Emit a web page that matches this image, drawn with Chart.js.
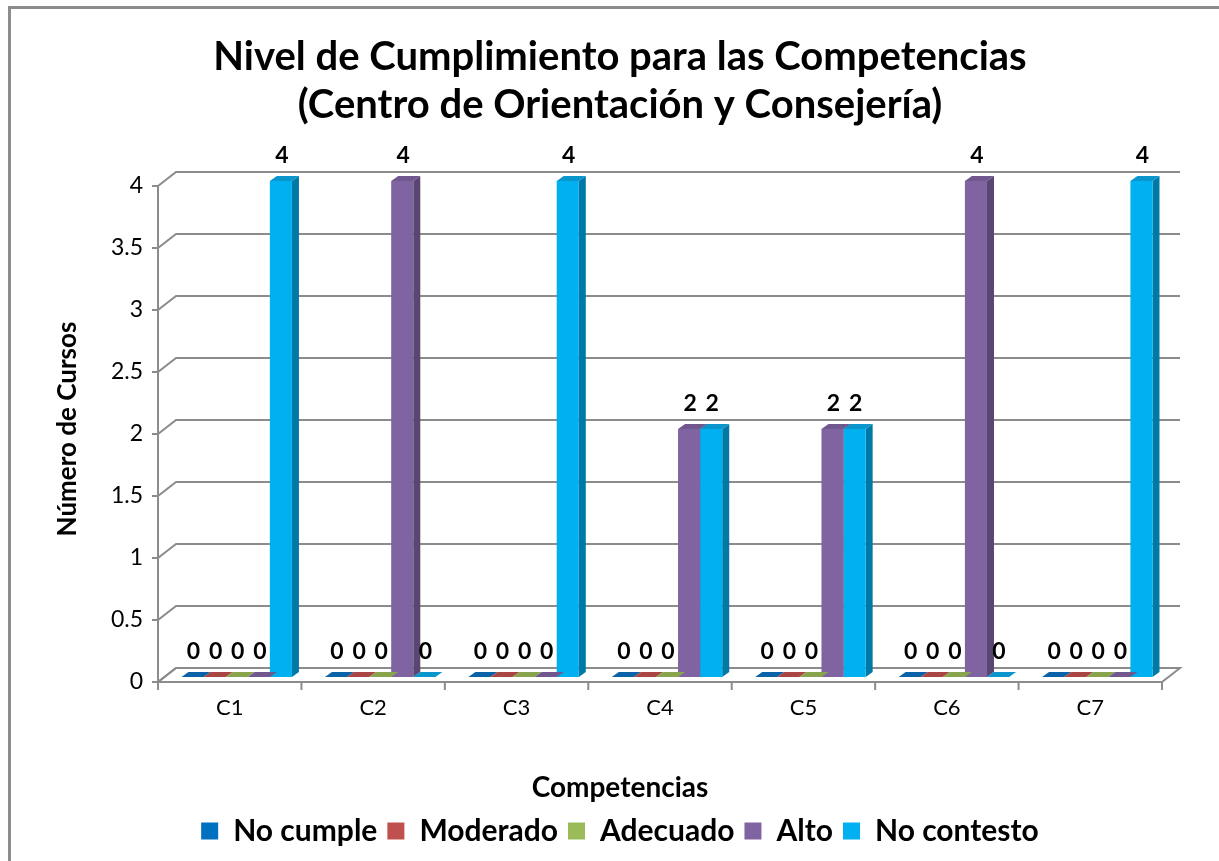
<!DOCTYPE html>
<html>
<head>
<meta charset="utf-8">
<script src="https://cdn.jsdelivr.net/npm/chart.js@4.4.1/dist/chart.umd.min.js"></script>
<style>
  html, body { margin: 0; padding: 0; background: #fff; }
  #wrap { width: 1219px; height: 861px; }
</style>
</head>
<body>
<div id="wrap"><canvas id="myChart" width="1219" height="861"></canvas></div>
<script>
// Datos del gráfico
const categorias = ["C1", "C2", "C3", "C4", "C5", "C6", "C7"];
const noCumple   = [0, 0, 0, 0, 0, 0, 0];
const moderado   = [0, 0, 0, 0, 0, 0, 0];
const adecuado   = [0, 0, 0, 0, 0, 0, 0];
const alto       = [0, 4, 0, 2, 2, 4, 0];
const noContesto = [4, 0, 4, 2, 2, 0, 4];
const ejeYMin = 0, ejeYMax = 4, ejeYPaso = 0.5;

const FUENTE = "Lato";
const GRIS = "#8c8c8c";

// desplazamientos del efecto 3D (respecto al plano de las barras)
const FRENTE = { x: -7, y: 5 };
const FONDO = { x: 11, y: -9 };
const PROF = { x: 7, y: -5 };

// Colores: [frente, lado, arriba]
const colores = {
  noCumple:   ["#0070C0", "#004f87", "#0a62a8"],
  moderado:   ["#C0504D", "#873836", "#a94644"],
  adecuado:   ["#9BBB59", "#6d833e", "#88a54e"],
  alto:       ["#8064A2", "#5a4672", "#70588f"],
  noContesto: ["#00B0F0", "#0079a6", "#0a95cc"]
};

function dataset(label, data, key) {
  return {
    label: label,
    data: data,
    backgroundColor: colores[key][0],
    borderWidth: 0,
    lado: colores[key][1],
    arriba: colores[key][2]
  };
}

// Marco 3D: piso, líneas de fondo y eje frontal
const marco3D = {
  id: "marco3D",
  beforeDraw(chart) {
    const ctx = chart.ctx;
    ctx.save();
    ctx.fillStyle = "#fff";
    ctx.fillRect(0, 0, chart.width, chart.height);
    ctx.strokeStyle = GRIS;
    ctx.lineWidth = 3;
    ctx.strokeRect(9.5, 7.5, 1400, 1000);
    ctx.restore();
  },
  beforeDatasetsDraw(chart) {
    const ctx = chart.ctx;
    const x = chart.scales.x, y = chart.scales.y;
    const izq = chart.chartArea.left, der = chart.chartArea.right;
    const y0 = y.getPixelForValue(ejeYMin);
    const yMax = y.getPixelForValue(ejeYMax);
    ctx.save();
    ctx.strokeStyle = GRIS;
    ctx.lineWidth = 2;

    // piso
    ctx.fillStyle = "#fff";
    ctx.beginPath();
    ctx.moveTo(izq + FRENTE.x, y0 + FRENTE.y);
    ctx.lineTo(der + FRENTE.x, y0 + FRENTE.y);
    ctx.lineTo(der + FONDO.x, y0 + FONDO.y);
    ctx.lineTo(izq + FONDO.x, y0 + FONDO.y);
    ctx.closePath();
    ctx.fill();
    ctx.stroke();

    // líneas de cuadrícula
    for (let v = ejeYMin; v <= ejeYMax + 1e-9; v += ejeYPaso) {
      const py = y.getPixelForValue(v);
      ctx.beginPath();
      ctx.moveTo(izq + FRENTE.x - 6, py + FRENTE.y);
      ctx.lineTo(izq + FRENTE.x, py + FRENTE.y);
      ctx.lineTo(izq + FONDO.x, py + FONDO.y);
      ctx.lineTo(der + FONDO.x, py + FONDO.y);
      ctx.stroke();
    }

    // eje vertical frontal
    ctx.beginPath();
    ctx.moveTo(izq + FRENTE.x, yMax + FRENTE.y);
    ctx.lineTo(izq + FRENTE.x, y0 + FRENTE.y);
    ctx.stroke();

    // marcas del eje X
    const ancho = (der - izq) / categorias.length;
    for (let i = 0; i <= categorias.length; i++) {
      const px = x.getPixelForValue(0) - ancho / 2 + i * ancho + FRENTE.x;
      ctx.beginPath();
      ctx.moveTo(px, y0 + FRENTE.y);
      ctx.lineTo(px, y0 + FRENTE.y + 8);
      ctx.stroke();
    }

    // caras laterales (debajo de los frentes)
    chart.data.datasets.forEach((ds, i) => {
      chart.getDatasetMeta(i).data.forEach(bar => {
        if (bar.base - bar.y < 0.5) return;
        const r = bar.x + bar.width / 2;
        ctx.fillStyle = ds.lado;
        ctx.beginPath();
        ctx.moveTo(r, bar.y);
        ctx.lineTo(r + PROF.x, bar.y + PROF.y);
        ctx.lineTo(r + PROF.x, bar.base + PROF.y);
        ctx.lineTo(r, bar.base);
        ctx.closePath();
        ctx.fill();
      });
    });
    ctx.restore();
  },
  afterDatasetsDraw(chart) {
    const ctx = chart.ctx;
    ctx.save();
    // caras superiores
    chart.data.datasets.forEach((ds, i) => {
      chart.getDatasetMeta(i).data.forEach(bar => {
        const l = bar.x - bar.width / 2, r = bar.x + bar.width / 2;
        ctx.fillStyle = ds.arriba;
        ctx.beginPath();
        ctx.moveTo(l, bar.y);
        ctx.lineTo(r, bar.y);
        ctx.lineTo(r + PROF.x, bar.y + PROF.y);
        ctx.lineTo(l + PROF.x, bar.y + PROF.y);
        ctx.closePath();
        ctx.fill();
      });
    });
    // etiquetas de datos
    ctx.fillStyle = "#000";
    ctx.font = "bold 23px " + FUENTE;
    ctx.textAlign = "center";
    ctx.textBaseline = "middle";
    chart.data.datasets.forEach((ds, i) => {
      chart.getDatasetMeta(i).data.forEach((bar, j) => {
        ctx.fillText(String(ds.data[j]), bar.x + 1, bar.y - 25);
      });
    });
    ctx.restore();
  }
};

const ctx = document.getElementById("myChart").getContext("2d");
new Chart(ctx, {
  type: "bar",
  data: {
    labels: categorias,
    datasets: [
      dataset("No cumple", noCumple, "noCumple"),
      dataset("Moderado", moderado, "moderado"),
      dataset("Adecuado", adecuado, "adecuado"),
      dataset("Alto", alto, "alto"),
      dataset("No contesto", noContesto, "noContesto")
    ]
  },
  options: {
    responsive: false,
    animation: false,
    layout: { padding: { left: 71, right: 50, top: 10, bottom: 5 } },
    datasets: { bar: { categoryPercentage: 0.77, barPercentage: 1.0 } },
    scales: {
      x: {
        grid: { display: false, drawTicks: false },
        border: { display: false },
        ticks: {
          color: "#000",
          font: { family: FUENTE, size: 22 },
          padding: 18,
          labelOffset: FRENTE.x
        },
        afterFit(scale) { scale.height = 60; }
      },
      y: {
        min: ejeYMin,
        max: ejeYMax,
        grid: { display: false, drawTicks: false },
        border: { display: false },
        ticks: {
          stepSize: ejeYPaso,
          color: "#000",
          font: { family: FUENTE, size: 23 },
          padding: 22,
          labelOffset: FRENTE.y,
          callback: v => String(v)
        },
        title: {
          display: true,
          text: "Número de Cursos",
          color: "#000",
          font: { family: FUENTE, size: 26, weight: "bold" },
          padding: { top: -19, bottom: 0 }
        },
        afterFit(scale) { scale.width = 94; }
      }
    },
    plugins: {
      title: {
        display: true,
        text: ["Nivel de Cumplimiento para las Competencias", "(Centro de Orientación y Consejería)"],
        color: "#000",
        font: { family: FUENTE, size: 40, weight: "bold", lineHeight: 48 / 40 },
        padding: { top: 23, bottom: 52 }
      },
      legend: {
        position: "bottom",
        title: {
          display: true,
          text: "Competencias",
          color: "#000",
          font: { family: FUENTE, size: 28, weight: "bold" },
          padding: { top: 37, bottom: -1.6 }
        },
        labels: {
          color: "#000",
          boxWidth: 17,
          boxHeight: 17,
          padding: 10,
          font: { family: FUENTE, size: 30, weight: "bold" }
        }
      },
      tooltip: { enabled: false }
    }
  },
  plugins: [marco3D]
});
</script>
</body>
</html>
